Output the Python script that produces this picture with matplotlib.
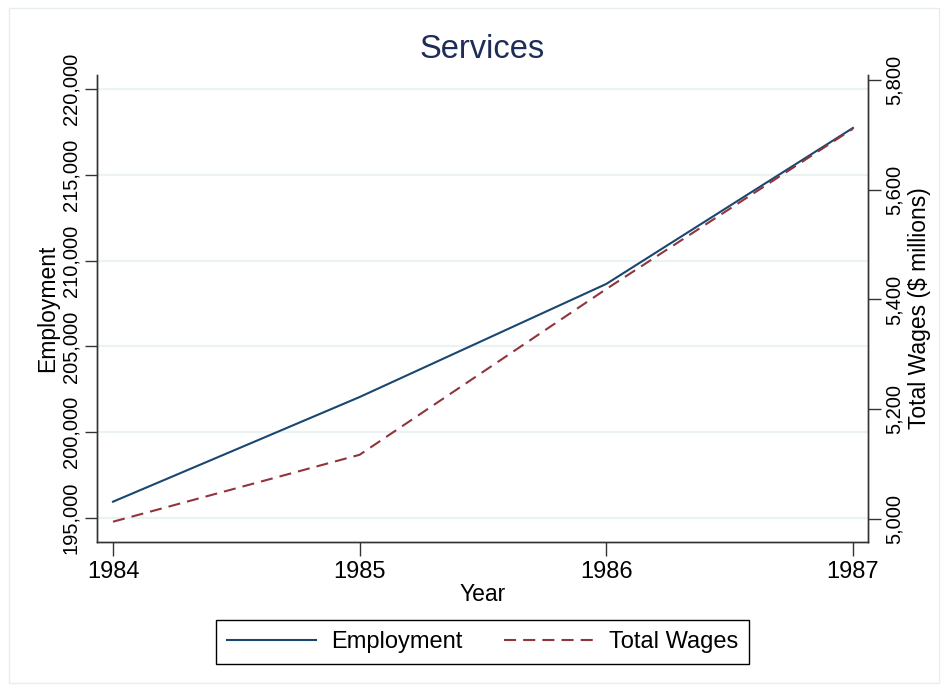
import matplotlib
matplotlib.use('Agg')
import matplotlib.pyplot as plt
from matplotlib.ticker import FuncFormatter
from matplotlib.patches import Rectangle

plt.rcParams['font.family'] = ['Liberation Sans', 'DejaVu Sans']

years = [1984, 1985, 1986, 1987]
employment = [195950, 202050, 208640, 217730]
wages = [4995, 5117, 5419, 5711]

emp_ticks = [195000, 200000, 205000, 210000, 215000, 220000]
wage_ticks = [5000, 5200, 5400, 5600, 5800]

navy = '#1a476f'
maroon = '#90353b'
grid_col = '#eaf2f3'

fig = plt.figure(figsize=(9.48, 6.91), dpi=100)
fig.patches.append(Rectangle((0.009, 0.012), 0.982, 0.976, transform=fig.transFigure,
                             fill=False, edgecolor='#e6eef0', lw=1))
ax = fig.add_axes([0.1023, 0.2156, 0.8133, 0.6759])
ax2 = ax.twinx()

comma = FuncFormatter(lambda v, p: '{:,.0f}'.format(v))

ln1, = ax.plot(years, employment, color=navy, lw=1.5, label='Employment')
ln2, = ax2.plot(years, wages, color=maroon, lw=1.5, dashes=(5.8, 3.4), label='Total Wages')

ax.set_xlim(1983.935, 1987.061)
ax.set_ylim(193600, 220816)
ax2.set_ylim(4958, 5809)
ax.set_xticks(years)
ax.set_yticks(emp_ticks)
ax2.set_yticks(wage_ticks)
ax.yaxis.set_major_formatter(comma)
ax2.yaxis.set_major_formatter(comma)

for t in emp_ticks:
    ax.axhline(t, color=grid_col, lw=1.6, zorder=0)

for a in (ax, ax2):
    a.spines['top'].set_visible(False)
    for s in a.spines.values():
        s.set_color('#333333')
        s.set_linewidth(1)
ax.tick_params(axis='x', labelsize=17, length=10, width=1, color='#333333', pad=4)
ax.tick_params(axis='y', labelsize=14.5, length=9, width=1, color='#333333',
               labelrotation=90, pad=3)
ax2.tick_params(axis='y', labelsize=14.5, length=9, width=1, color='#333333',
                labelrotation=90, pad=3)
for lab in ax.get_yticklabels() + ax2.get_yticklabels():
    lab.set_verticalalignment('center')

ax.set_xlabel('Year', fontsize=16.5, labelpad=0)
ax.set_ylabel('Employment', fontsize=16.5, labelpad=1.5)
ax2.set_ylabel('Total Wages ($ millions)', fontsize=16.5, labelpad=3)

mid = (97 + 868) / 2 / 948
fig.text(mid, 0.929, 'Services', ha='center', va='center', fontsize=23.5, color='#1e2d58')

fig.legend([ln1, ln2], ['Employment', 'Total Wages'], loc='center', ncol=2,
           bbox_to_anchor=(mid, 1 - 642 / 691), fontsize=17, handlelength=3.8,
           handletextpad=0.64, columnspacing=1.75, fancybox=False, edgecolor='black',
           framealpha=1, borderpad=0.45)

fig.savefig('out.png', dpi=100)
